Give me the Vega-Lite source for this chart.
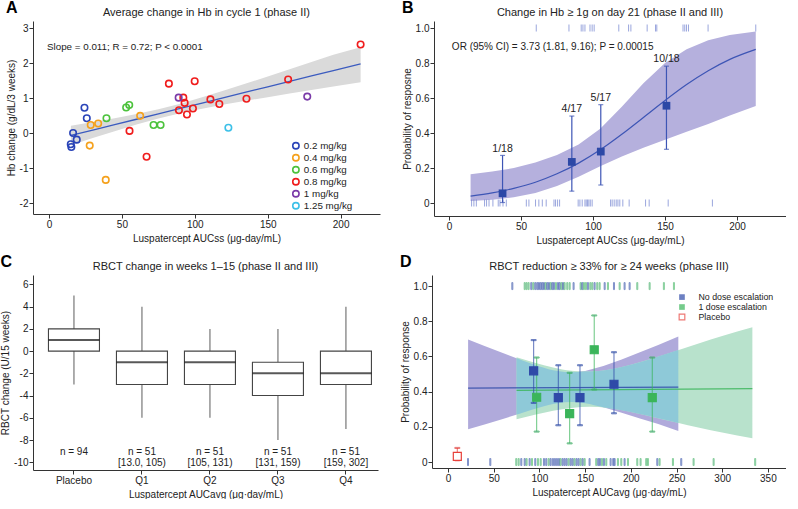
{
  "$schema": "https://vega.github.io/schema/vega-lite/v6.json",
  "padding": {"left": 0, "top": 0, "right": 0, "bottom": 0},
  "background": "white",
  "config": {
    "font": "Liberation Sans",
    "view": {"stroke": null},
    "axis": {"grid": false, "domainColor": "#333", "tickColor": "#333", "labelColor": "#222", "titleColor": "#222", "labelFontSize": 10, "titleFontSize": 10, "titleFontWeight": "normal", "tickSize": 4, "labelPadding": 1, "titlePadding": 4, "labelOverlap": false},
    "axisY": {"labelAngle": 0, "labelPadding": 1, "titlePadding": 3},
    "title": {"fontSize": 11, "fontWeight": "normal", "color": "#222", "offset": 3},
    "legend": {"labelFont": "Liberation Sans", "labelColor": "#222"}
  },
  "resolve": {"scale": {"x": "independent", "y": "independent", "color": "independent", "stroke": "independent", "fill": "independent"}},
  "datasets": {
    "aPts": [
      {"x": 24.3, "y": 0.72, "dose": "0.2 mg/kg"},
      {"x": 25.9, "y": 0.42, "dose": "0.2 mg/kg"},
      {"x": 16.5, "y": 0.0, "dose": "0.2 mg/kg"},
      {"x": 19.0, "y": -0.19, "dose": "0.2 mg/kg"},
      {"x": 14.9, "y": -0.32, "dose": "0.2 mg/kg"},
      {"x": 15.3, "y": -0.40, "dose": "0.2 mg/kg"},
      {"x": 28.6, "y": 0.23, "dose": "0.4 mg/kg"},
      {"x": 33.7, "y": 0.27, "dose": "0.4 mg/kg"},
      {"x": 27.9, "y": -0.36, "dose": "0.4 mg/kg"},
      {"x": 62.5, "y": 0.49, "dose": "0.4 mg/kg"},
      {"x": 38.9, "y": -1.34, "dose": "0.4 mg/kg"},
      {"x": 39.4, "y": 0.42, "dose": "0.6 mg/kg"},
      {"x": 52.9, "y": 0.73, "dose": "0.6 mg/kg"},
      {"x": 55.0, "y": 0.80, "dose": "0.6 mg/kg"},
      {"x": 71.7, "y": 0.23, "dose": "0.6 mg/kg"},
      {"x": 76.5, "y": 0.23, "dose": "0.6 mg/kg"},
      {"x": 55.2, "y": 0.06, "dose": "0.8 mg/kg"},
      {"x": 66.9, "y": -0.68, "dose": "0.8 mg/kg"},
      {"x": 82.2, "y": 1.41, "dose": "0.8 mg/kg"},
      {"x": 99.9, "y": 1.48, "dose": "0.8 mg/kg"},
      {"x": 92.1, "y": 1.01, "dose": "0.8 mg/kg"},
      {"x": 93.0, "y": 0.86, "dose": "0.8 mg/kg"},
      {"x": 89.1, "y": 0.65, "dose": "0.8 mg/kg"},
      {"x": 94.6, "y": 0.53, "dose": "0.8 mg/kg"},
      {"x": 98.7, "y": 0.70, "dose": "0.8 mg/kg"},
      {"x": 110.7, "y": 0.96, "dose": "0.8 mg/kg"},
      {"x": 116.8, "y": 0.83, "dose": "0.8 mg/kg"},
      {"x": 135.4, "y": 0.98, "dose": "0.8 mg/kg"},
      {"x": 164.0, "y": 1.53, "dose": "0.8 mg/kg"},
      {"x": 213.7, "y": 2.53, "dose": "0.8 mg/kg"},
      {"x": 88.9, "y": 1.01, "dose": "1 mg/kg"},
      {"x": 177.1, "y": 1.04, "dose": "1 mg/kg"},
      {"x": 123.0, "y": 0.15, "dose": "1.25 mg/kg"}
    ],
    "aBand": [
      {"x": 15, "fit": -0.070, "lo": -0.349, "hi": 0.209},
      {"x": 30, "fit": 0.084, "lo": -0.146, "hi": 0.314},
      {"x": 45, "fit": 0.239, "lo": 0.053, "hi": 0.425},
      {"x": 60, "fit": 0.393, "lo": 0.242, "hi": 0.544},
      {"x": 75, "fit": 0.548, "lo": 0.416, "hi": 0.680},
      {"x": 90, "fit": 0.702, "lo": 0.566, "hi": 0.838},
      {"x": 105, "fit": 0.857, "lo": 0.696, "hi": 1.018},
      {"x": 120, "fit": 1.011, "lo": 0.811, "hi": 1.211},
      {"x": 135, "fit": 1.166, "lo": 0.920, "hi": 1.412},
      {"x": 150, "fit": 1.320, "lo": 1.024, "hi": 1.616},
      {"x": 165, "fit": 1.475, "lo": 1.127, "hi": 1.823},
      {"x": 180, "fit": 1.629, "lo": 1.228, "hi": 2.030},
      {"x": 195, "fit": 1.784, "lo": 1.329, "hi": 2.239},
      {"x": 213.7, "fit": 1.976, "lo": 1.452, "hi": 2.450}
    ],
    "bBand": [
      {"x": 15, "p": 0.040, "lo": 0.012, "hi": 0.165},
      {"x": 30, "p": 0.058, "lo": 0.019, "hi": 0.180},
      {"x": 45, "p": 0.084, "lo": 0.033, "hi": 0.200},
      {"x": 60, "p": 0.119, "lo": 0.058, "hi": 0.232},
      {"x": 75, "p": 0.167, "lo": 0.097, "hi": 0.275},
      {"x": 90, "p": 0.228, "lo": 0.150, "hi": 0.335},
      {"x": 105, "p": 0.304, "lo": 0.210, "hi": 0.425},
      {"x": 120, "p": 0.393, "lo": 0.266, "hi": 0.550},
      {"x": 135, "p": 0.489, "lo": 0.316, "hi": 0.685},
      {"x": 150, "p": 0.586, "lo": 0.362, "hi": 0.800},
      {"x": 165, "p": 0.677, "lo": 0.407, "hi": 0.878},
      {"x": 180, "p": 0.756, "lo": 0.451, "hi": 0.930},
      {"x": 195, "p": 0.821, "lo": 0.500, "hi": 0.960},
      {"x": 213, "p": 0.878, "lo": 0.555, "hi": 0.980}
    ],
    "bPts": [
      {"x": 37.2, "p": 0.0556, "lo": 0.003, "hi": 0.272, "lab": "1/18", "ly": 0.31},
      {"x": 85.3, "p": 0.235, "lo": 0.068, "hi": 0.497, "lab": "4/17", "ly": 0.538},
      {"x": 105.4, "p": 0.294, "lo": 0.103, "hi": 0.562, "lab": "5/17", "ly": 0.598},
      {"x": 151.0, "p": 0.556, "lo": 0.307, "hi": 0.782, "lab": "10/18", "ly": 0.822}
    ],
    "bRug": [
      {"x": 60.6, "r": 1}, {"x": 83.3, "r": 1}, {"x": 91.8, "r": 1}, {"x": 93.0, "r": 1}, {"x": 94.4, "r": 1},
      {"x": 97.9, "r": 1}, {"x": 99.4, "r": 1}, {"x": 100.8, "r": 1}, {"x": 117.9, "r": 1}, {"x": 124.7, "r": 1},
      {"x": 126.3, "r": 1}, {"x": 137.6, "r": 1}, {"x": 143.4, "r": 1}, {"x": 144.3, "r": 1}, {"x": 162.5, "r": 1},
      {"x": 163.7, "r": 1}, {"x": 164.9, "r": 1}, {"x": 166.3, "r": 1}, {"x": 179.9, "r": 1}, {"x": 213.0, "r": 1},
      {"x": 15.7, "r": 0}, {"x": 17.3, "r": 0}, {"x": 19.0, "r": 0}, {"x": 24.7, "r": 0}, {"x": 26.1, "r": 0},
      {"x": 27.8, "r": 0}, {"x": 30.5, "r": 0}, {"x": 34.2, "r": 0}, {"x": 35.4, "r": 0}, {"x": 37.5, "r": 0},
      {"x": 39.8, "r": 0}, {"x": 53.7, "r": 0}, {"x": 55.5, "r": 0}, {"x": 60.1, "r": 0}, {"x": 62.4, "r": 0},
      {"x": 64.8, "r": 0}, {"x": 67.5, "r": 0}, {"x": 72.9, "r": 0}, {"x": 74.0, "r": 0}, {"x": 75.4, "r": 0},
      {"x": 76.8, "r": 0}, {"x": 89.7, "r": 0}, {"x": 90.9, "r": 0}, {"x": 92.5, "r": 0}, {"x": 94.4, "r": 0},
      {"x": 95.3, "r": 0}, {"x": 96.2, "r": 0}, {"x": 97.1, "r": 0}, {"x": 98.1, "r": 0}, {"x": 99.4, "r": 0},
      {"x": 112.2, "r": 0}, {"x": 113.3, "r": 0}, {"x": 114.7, "r": 0}, {"x": 116.1, "r": 0}, {"x": 117.3, "r": 0},
      {"x": 118.6, "r": 0}, {"x": 120.7, "r": 0}, {"x": 125.1, "r": 0}, {"x": 136.5, "r": 0}, {"x": 139.0, "r": 0},
      {"x": 152.2, "r": 0}, {"x": 182.9, "r": 0}
    ],
    "cBox": [
      {"g": "Placebo", "lo": -3, "q1": 0, "med": 1, "q3": 2, "hi": 5, "n": "n = 94", "rng": ""},
      {"g": "Q1", "lo": -6, "q1": -3, "med": -1, "q3": 0, "hi": 4, "n": "n = 51", "rng": "[13.0, 105)"},
      {"g": "Q2", "lo": -6, "q1": -3, "med": -1, "q3": 0, "hi": 2, "n": "n = 51", "rng": "[105, 131)"},
      {"g": "Q3", "lo": -8, "q1": -4, "med": -2, "q3": -1, "hi": 2, "n": "n = 51", "rng": "[131, 159)"},
      {"g": "Q4", "lo": -7, "q1": -3, "med": -2, "q3": 0, "hi": 4, "n": "n = 51", "rng": "[159, 302]"}
    ],
    "dBlueBand": [
      {"x": 22, "lo": 0.1865, "hi": 0.6957},
      {"x": 40, "lo": 0.2132, "hi": 0.6600},
      {"x": 60, "lo": 0.2449, "hi": 0.6196},
      {"x": 80, "lo": 0.2779, "hi": 0.5796},
      {"x": 100, "lo": 0.3096, "hi": 0.5432},
      {"x": 120, "lo": 0.3338, "hi": 0.5167},
      {"x": 135, "lo": 0.3405, "hi": 0.5097},
      {"x": 150, "lo": 0.3345, "hi": 0.5175},
      {"x": 170, "lo": 0.3111, "hi": 0.5451},
      {"x": 190, "lo": 0.2803, "hi": 0.5825},
      {"x": 210, "lo": 0.2479, "hi": 0.6234},
      {"x": 230, "lo": 0.2165, "hi": 0.6646},
      {"x": 252, "lo": 0.1760, "hi": 0.7140}
    ],
    "dGreenBand": [
      {"x": 75, "lo": 0.2430, "hi": 0.5948},
      {"x": 95, "lo": 0.2681, "hi": 0.5641},
      {"x": 115, "lo": 0.2910, "hi": 0.5377},
      {"x": 135, "lo": 0.3077, "hi": 0.5193},
      {"x": 155, "lo": 0.3137, "hi": 0.5140},
      {"x": 175, "lo": 0.3066, "hi": 0.5240},
      {"x": 200, "lo": 0.2843, "hi": 0.5526},
      {"x": 225, "lo": 0.2550, "hi": 0.5910},
      {"x": 250, "lo": 0.2243, "hi": 0.6330},
      {"x": 275, "lo": 0.1947, "hi": 0.6752},
      {"x": 300, "lo": 0.1671, "hi": 0.7163},
      {"x": 333, "lo": 0.1352, "hi": 0.7661}
    ],
    "dOverlap": [
      {"x": 75, "lo": 0.2697, "hi": 0.5894},
      {"x": 80, "lo": 0.2779, "hi": 0.5796},
      {"x": 100, "lo": 0.3096, "hi": 0.5432},
      {"x": 120, "lo": 0.3338, "hi": 0.5167},
      {"x": 135, "lo": 0.3405, "hi": 0.5097},
      {"x": 150, "lo": 0.3345, "hi": 0.5139},
      {"x": 170, "lo": 0.3111, "hi": 0.5201},
      {"x": 190, "lo": 0.2944, "hi": 0.5395},
      {"x": 210, "lo": 0.2730, "hi": 0.5671},
      {"x": 230, "lo": 0.2489, "hi": 0.5991},
      {"x": 252, "lo": 0.2218, "hi": 0.6363}
    ],
    "dLine": [
      {"x": 22, "p": 0.420, "grp": "No dose escalation"},
      {"x": 252, "p": 0.426, "grp": "No dose escalation"},
      {"x": 75, "p": 0.407, "grp": "1 dose escalation"},
      {"x": 333, "p": 0.417, "grp": "1 dose escalation"}
    ],
    "dPts": [
      {"x": 93.7, "p": 0.518, "lo": 0.336, "hi": 0.693, "grp": "No dose escalation"},
      {"x": 120.7, "p": 0.366, "lo": 0.209, "hi": 0.550, "grp": "No dose escalation"},
      {"x": 144.4, "p": 0.366, "lo": 0.209, "hi": 0.550, "grp": "No dose escalation"},
      {"x": 181.6, "p": 0.442, "lo": 0.277, "hi": 0.624, "grp": "No dose escalation"},
      {"x": 97.0, "p": 0.368, "lo": 0.173, "hi": 0.594, "grp": "1 dose escalation"},
      {"x": 133.1, "p": 0.275, "lo": 0.106, "hi": 0.507, "grp": "1 dose escalation"},
      {"x": 160.0, "p": 0.638, "lo": 0.412, "hi": 0.833, "grp": "1 dose escalation"},
      {"x": 223.5, "p": 0.366, "lo": 0.173, "hi": 0.594, "grp": "1 dose escalation"},
      {"x": 10.2, "p": 0.032, "lo": 0.010, "hi": 0.080, "grp": "Placebo"}
    ],
    "dRug": [
      {"x": 70.4, "r": 1, "grp": "No dose escalation"}, {"x": 83.9, "r": 1, "grp": "1 dose escalation"},
      {"x": 86.0, "r": 1, "grp": "1 dose escalation"}, {"x": 88.2, "r": 1, "grp": "1 dose escalation"},
      {"x": 91.1, "r": 1, "grp": "No dose escalation"}, {"x": 93.3, "r": 1, "grp": "1 dose escalation"},
      {"x": 95.5, "r": 1, "grp": "No dose escalation"}, {"x": 97.7, "r": 1, "grp": "No dose escalation"},
      {"x": 99.5, "r": 1, "grp": "No dose escalation"}, {"x": 101.4, "r": 1, "grp": "No dose escalation"},
      {"x": 103.2, "r": 1, "grp": "No dose escalation"}, {"x": 105.0, "r": 1, "grp": "No dose escalation"},
      {"x": 106.8, "r": 1, "grp": "1 dose escalation"}, {"x": 108.6, "r": 1, "grp": "No dose escalation"},
      {"x": 110.5, "r": 1, "grp": "No dose escalation"}, {"x": 112.3, "r": 1, "grp": "1 dose escalation"},
      {"x": 114.1, "r": 1, "grp": "No dose escalation"}, {"x": 115.9, "r": 1, "grp": "No dose escalation"},
      {"x": 118.1, "r": 1, "grp": "1 dose escalation"}, {"x": 120.3, "r": 1, "grp": "No dose escalation"},
      {"x": 122.1, "r": 1, "grp": "No dose escalation"}, {"x": 124.0, "r": 1, "grp": "1 dose escalation"},
      {"x": 125.8, "r": 1, "grp": "No dose escalation"}, {"x": 127.6, "r": 1, "grp": "1 dose escalation"},
      {"x": 130.5, "r": 1, "grp": "1 dose escalation"}, {"x": 133.1, "r": 1, "grp": "1 dose escalation"},
      {"x": 137.4, "r": 1, "grp": "No dose escalation"}, {"x": 145.1, "r": 1, "grp": "1 dose escalation"},
      {"x": 146.9, "r": 1, "grp": "No dose escalation"}, {"x": 148.7, "r": 1, "grp": "1 dose escalation"},
      {"x": 150.9, "r": 1, "grp": "1 dose escalation"}, {"x": 153.1, "r": 1, "grp": "No dose escalation"},
      {"x": 155.7, "r": 1, "grp": "1 dose escalation"}, {"x": 157.9, "r": 1, "grp": "1 dose escalation"},
      {"x": 160.4, "r": 1, "grp": "No dose escalation"}, {"x": 163.3, "r": 1, "grp": "1 dose escalation"},
      {"x": 165.9, "r": 1, "grp": "1 dose escalation"}, {"x": 171.4, "r": 1, "grp": "No dose escalation"},
      {"x": 175.0, "r": 1, "grp": "1 dose escalation"}, {"x": 181.6, "r": 1, "grp": "No dose escalation"},
      {"x": 187.8, "r": 1, "grp": "1 dose escalation"}, {"x": 193.2, "r": 1, "grp": "No dose escalation"},
      {"x": 198.7, "r": 1, "grp": "No dose escalation"}, {"x": 207.1, "r": 1, "grp": "1 dose escalation"},
      {"x": 220.6, "r": 1, "grp": "1 dose escalation"}, {"x": 236.2, "r": 1, "grp": "1 dose escalation"},
      {"x": 247.2, "r": 1, "grp": "1 dose escalation"},
      {"x": 21.9, "r": 0, "grp": "No dose escalation"}, {"x": 46.3, "r": 0, "grp": "No dose escalation"},
      {"x": 74.7, "r": 0, "grp": "1 dose escalation"}, {"x": 77.3, "r": 0, "grp": "1 dose escalation"},
      {"x": 80.2, "r": 0, "grp": "No dose escalation"}, {"x": 83.9, "r": 0, "grp": "No dose escalation"},
      {"x": 86.0, "r": 0, "grp": "1 dose escalation"}, {"x": 89.3, "r": 0, "grp": "No dose escalation"},
      {"x": 91.9, "r": 0, "grp": "1 dose escalation"}, {"x": 95.5, "r": 0, "grp": "No dose escalation"},
      {"x": 98.4, "r": 0, "grp": "1 dose escalation"}, {"x": 101.4, "r": 0, "grp": "1 dose escalation"},
      {"x": 105.0, "r": 0, "grp": "No dose escalation"}, {"x": 107.5, "r": 0, "grp": "No dose escalation"},
      {"x": 110.1, "r": 0, "grp": "1 dose escalation"}, {"x": 112.3, "r": 0, "grp": "No dose escalation"},
      {"x": 114.8, "r": 0, "grp": "No dose escalation"}, {"x": 117.0, "r": 0, "grp": "No dose escalation"},
      {"x": 119.2, "r": 0, "grp": "No dose escalation"}, {"x": 121.4, "r": 0, "grp": "No dose escalation"},
      {"x": 123.2, "r": 0, "grp": "1 dose escalation"}, {"x": 125.4, "r": 0, "grp": "No dose escalation"},
      {"x": 127.6, "r": 0, "grp": "No dose escalation"}, {"x": 129.8, "r": 0, "grp": "No dose escalation"},
      {"x": 132.0, "r": 0, "grp": "1 dose escalation"}, {"x": 134.2, "r": 0, "grp": "No dose escalation"},
      {"x": 136.4, "r": 0, "grp": "No dose escalation"}, {"x": 138.5, "r": 0, "grp": "1 dose escalation"},
      {"x": 140.7, "r": 0, "grp": "No dose escalation"}, {"x": 142.9, "r": 0, "grp": "No dose escalation"},
      {"x": 145.1, "r": 0, "grp": "1 dose escalation"}, {"x": 147.3, "r": 0, "grp": "No dose escalation"},
      {"x": 149.5, "r": 0, "grp": "1 dose escalation"}, {"x": 154.9, "r": 0, "grp": "No dose escalation"},
      {"x": 162.2, "r": 0, "grp": "1 dose escalation"}, {"x": 164.4, "r": 0, "grp": "No dose escalation"},
      {"x": 166.2, "r": 0, "grp": "No dose escalation"}, {"x": 168.4, "r": 0, "grp": "1 dose escalation"},
      {"x": 170.6, "r": 0, "grp": "No dose escalation"}, {"x": 173.2, "r": 0, "grp": "1 dose escalation"},
      {"x": 177.9, "r": 0, "grp": "No dose escalation"}, {"x": 180.8, "r": 0, "grp": "No dose escalation"},
      {"x": 182.3, "r": 0, "grp": "No dose escalation"}, {"x": 185.9, "r": 0, "grp": "1 dose escalation"},
      {"x": 189.6, "r": 0, "grp": "1 dose escalation"}, {"x": 193.2, "r": 0, "grp": "No dose escalation"},
      {"x": 196.9, "r": 0, "grp": "1 dose escalation"}, {"x": 207.1, "r": 0, "grp": "1 dose escalation"},
      {"x": 210.7, "r": 0, "grp": "1 dose escalation"}, {"x": 216.9, "r": 0, "grp": "1 dose escalation"},
      {"x": 218.7, "r": 0, "grp": "1 dose escalation"}, {"x": 229.0, "r": 0, "grp": "No dose escalation"},
      {"x": 231.5, "r": 0, "grp": "1 dose escalation"}, {"x": 246.1, "r": 0, "grp": "1 dose escalation"},
      {"x": 255.2, "r": 0, "grp": "No dose escalation"}, {"x": 268.7, "r": 0, "grp": "1 dose escalation"},
      {"x": 290.6, "r": 0, "grp": "1 dose escalation"}, {"x": 336.1, "r": 0, "grp": "1 dose escalation"}
    ]
  },
  "vconcat": [
    {
      "hconcat": [
        {
          "title": {"text": "A", "anchor": "start", "frame": "bounds", "fontSize": 16, "fontWeight": "bold", "offset": -9, "color": "#000"},
          "resolve": {"scale": {"color": "independent"}},
          "vconcat": [
            {
              "width": 347, "height": 193,
              "title": "Average change in Hb in cycle 1 (phase II)",
              "layer": [
                {
                  "data": {"name": "aBand"},
                  "mark": {"type": "area", "color": "#dadada"},
                  "encoding": {
                    "x": {"field": "x", "type": "quantitative", "title": "Luspatercept AUCss (μg-day/mL)", "scale": {"domain": [-11, 227], "nice": false, "zero": false}, "axis": {"values": [0, 50, 100, 150, 200], "labelOverlap": false}},
                    "y": {"field": "lo", "type": "quantitative", "title": "Hb change (g/dL/3 weeks)", "scale": {"domain": [-2.314, 3.2], "nice": false, "zero": false}, "axis": {"values": [-2, -1, 0, 1, 2, 3], "labelOverlap": false, "labelExpr": "replace(datum.label, '−', '-')"}},
                    "y2": {"field": "hi"}
                  }
                },
                {
                  "data": {"name": "aBand"},
                  "mark": {"type": "line", "color": "#3b5bbf", "strokeWidth": 1.3},
                  "encoding": {
                    "x": {"field": "x", "type": "quantitative", "title": "Luspatercept AUCss (μg-day/mL)", "axis": {"values": [0, 50, 100, 150, 200], "labelOverlap": false}},
                    "y": {"field": "fit", "type": "quantitative", "title": "Hb change (g/dL/3 weeks)", "axis": {"values": [-2, -1, 0, 1, 2, 3], "labelOverlap": false, "labelExpr": "replace(datum.label, '−', '-')"}}
                  }
                },
                {
                  "data": {"name": "aPts"},
                  "mark": {"type": "point", "shape": "circle", "filled": false, "strokeWidth": 1.6, "size": 42, "opacity": 1},
                  "encoding": {
                    "x": {"field": "x", "type": "quantitative", "title": "Luspatercept AUCss (μg-day/mL)", "axis": {"values": [0, 50, 100, 150, 200], "labelOverlap": false}},
                    "y": {"field": "y", "type": "quantitative", "title": "Hb change (g/dL/3 weeks)", "axis": {"values": [-2, -1, 0, 1, 2, 3], "labelOverlap": false, "labelExpr": "replace(datum.label, '−', '-')"}},
                    "color": {"field": "dose", "type": "nominal",
                      "scale": {"domain": ["0.2 mg/kg", "0.4 mg/kg", "0.6 mg/kg", "0.8 mg/kg", "1 mg/kg", "1.25 mg/kg"], "range": ["#2a44b8", "#f5a11c", "#4cc23c", "#f01c1c", "#7a3aa8", "#3cc0e8"]},
                      "legend": {"title": null, "orient": "none", "legendX": 258, "legendY": 119, "labelFontSize": 9.8, "symbolSize": 40, "symbolStrokeWidth": 1.6, "rowPadding": 0, "clipHeight": 11.5, "symbolType": "circle", "labelOffset": 3}}
                  }
                },
                {
                  "data": {"values": [{}]},
                  "mark": {"type": "text", "text": "Slope = 0.011; R = 0.72; P < 0.0001", "align": "left", "fontSize": 9.8, "color": "#222"},
                  "encoding": {
                    "x": {"datum": -1.4, "type": "quantitative", "title": "Luspatercept AUCss (μg-day/mL)", "axis": {"values": [0, 50, 100, 150, 200], "labelOverlap": false}},
                    "y": {"datum": 2.45, "type": "quantitative", "title": "Hb change (g/dL/3 weeks)", "axis": {"values": [-2, -1, 0, 1, 2, 3], "labelOverlap": false, "labelExpr": "replace(datum.label, '−', '-')"}}
                  }
                }
              ]
            }
          ]
        },
        {
          "title": {"text": "B", "anchor": "start", "frame": "bounds", "fontSize": 16, "fontWeight": "bold", "offset": -9, "color": "#000"},
          "vconcat": [
            {
              "width": 352, "height": 195,
              "title": "Change in Hb ≥ 1g on day 21 (phase II and III)",
              "layer": [
                {
                  "data": {"name": "bBand"},
                  "mark": {"type": "area", "color": "#b5b0dd"},
                  "encoding": {
                    "x": {"field": "x", "type": "quantitative", "title": "Luspatercept AUCss (μg-day/mL)", "scale": {"domain": [-10.4, 234], "nice": false, "zero": false}, "axis": {"values": [0, 50, 100, 150, 200], "labelOverlap": false}},
                    "y": {"field": "lo", "type": "quantitative", "title": "Probability of resposne", "scale": {"domain": [-0.074, 1.04], "nice": false, "zero": false}, "axis": {"values": [0, 0.2, 0.4, 0.6, 0.8, 1.0], "labelOverlap": false, "labelExpr": "datum.value == 0 ? '0' : format(datum.value, '.1f')"}},
                    "y2": {"field": "hi"}
                  }
                },
                {
                  "data": {"name": "bBand"},
                  "mark": {"type": "line", "color": "#3d55b5", "strokeWidth": 1.2, "interpolate": "monotone"},
                  "encoding": {
                    "x": {"field": "x", "type": "quantitative", "title": "Luspatercept AUCss (μg-day/mL)", "axis": {"values": [0, 50, 100, 150, 200], "labelOverlap": false}},
                    "y": {"field": "p", "type": "quantitative", "title": "Probability of resposne", "axis": {"values": [0, 0.2, 0.4, 0.6, 0.8, 1.0], "labelOverlap": false, "labelExpr": "datum.value == 0 ? '0' : format(datum.value, '.1f')"}}
                  }
                },
                {
                  "data": {"name": "bRug"},
                  "mark": {"type": "tick", "orient": "vertical", "size": 7, "thickness": 1, "color": "#6f80cf"},
                  "encoding": {
                    "x": {"field": "x", "type": "quantitative", "title": "Luspatercept AUCss (μg-day/mL)", "axis": {"values": [0, 50, 100, 150, 200], "labelOverlap": false}},
                    "y": {"field": "r", "type": "quantitative", "title": "Probability of resposne", "axis": {"values": [0, 0.2, 0.4, 0.6, 0.8, 1.0], "labelOverlap": false, "labelExpr": "datum.value == 0 ? '0' : format(datum.value, '.1f')"}}
                  }
                },
                {
                  "data": {"name": "bPts"},
                  "mark": {"type": "rule", "color": "#3d55b5", "strokeWidth": 1.2},
                  "encoding": {
                    "x": {"field": "x", "type": "quantitative", "title": "Luspatercept AUCss (μg-day/mL)", "axis": {"values": [0, 50, 100, 150, 200], "labelOverlap": false}},
                    "y": {"field": "lo", "type": "quantitative", "title": "Probability of resposne", "axis": {"values": [0, 0.2, 0.4, 0.6, 0.8, 1.0], "labelOverlap": false, "labelExpr": "datum.value == 0 ? '0' : format(datum.value, '.1f')"}},
                    "y2": {"field": "hi"}
                  }
                },
                {
                  "data": {"name": "bPts"},
                  "mark": {"type": "tick", "orient": "horizontal", "size": 5, "thickness": 1.2, "color": "#3d55b5"},
                  "encoding": {
                    "x": {"field": "x", "type": "quantitative", "title": "Luspatercept AUCss (μg-day/mL)", "axis": {"values": [0, 50, 100, 150, 200], "labelOverlap": false}},
                    "y": {"field": "lo", "type": "quantitative", "title": "Probability of resposne", "axis": {"values": [0, 0.2, 0.4, 0.6, 0.8, 1.0], "labelOverlap": false, "labelExpr": "datum.value == 0 ? '0' : format(datum.value, '.1f')"}}
                  }
                },
                {
                  "data": {"name": "bPts"},
                  "mark": {"type": "tick", "orient": "horizontal", "size": 5, "thickness": 1.2, "color": "#3d55b5"},
                  "encoding": {
                    "x": {"field": "x", "type": "quantitative", "title": "Luspatercept AUCss (μg-day/mL)", "axis": {"values": [0, 50, 100, 150, 200], "labelOverlap": false}},
                    "y": {"field": "hi", "type": "quantitative", "title": "Probability of resposne", "axis": {"values": [0, 0.2, 0.4, 0.6, 0.8, 1.0], "labelOverlap": false, "labelExpr": "datum.value == 0 ? '0' : format(datum.value, '.1f')"}}
                  }
                },
                {
                  "data": {"name": "bPts"},
                  "mark": {"type": "square", "size": 60, "color": "#2c48a6", "opacity": 1},
                  "encoding": {
                    "x": {"field": "x", "type": "quantitative", "title": "Luspatercept AUCss (μg-day/mL)", "axis": {"values": [0, 50, 100, 150, 200], "labelOverlap": false}},
                    "y": {"field": "p", "type": "quantitative", "title": "Probability of resposne", "axis": {"values": [0, 0.2, 0.4, 0.6, 0.8, 1.0], "labelOverlap": false, "labelExpr": "datum.value == 0 ? '0' : format(datum.value, '.1f')"}}
                  }
                },
                {
                  "data": {"name": "bPts"},
                  "mark": {"type": "text", "fontSize": 10.5, "color": "#222"},
                  "encoding": {
                    "x": {"field": "x", "type": "quantitative", "title": "Luspatercept AUCss (μg-day/mL)", "axis": {"values": [0, 50, 100, 150, 200], "labelOverlap": false}},
                    "y": {"field": "ly", "type": "quantitative", "title": "Probability of resposne", "axis": {"values": [0, 0.2, 0.4, 0.6, 0.8, 1.0], "labelOverlap": false, "labelExpr": "datum.value == 0 ? '0' : format(datum.value, '.1f')"}},
                    "text": {"field": "lab"}
                  }
                },
                {
                  "data": {"values": [{}]},
                  "mark": {"type": "text", "text": "OR (95% CI) = 3.73 (1.81, 9.16); P = 0.00015", "align": "left", "fontSize": 10, "color": "#222"},
                  "encoding": {
                    "x": {"datum": 2, "type": "quantitative", "title": "Luspatercept AUCss (μg-day/mL)", "axis": {"values": [0, 50, 100, 150, 200], "labelOverlap": false}},
                    "y": {"datum": 0.891, "type": "quantitative", "title": "Probability of resposne", "axis": {"values": [0, 0.2, 0.4, 0.6, 0.8, 1.0], "labelOverlap": false, "labelExpr": "datum.value == 0 ? '0' : format(datum.value, '.1f')"}}
                  }
                }
              ]
            }
          ]
        }
      ],
      "spacing": 22,
      "resolve": {"scale": {"x": "independent", "y": "independent", "color": "independent"}}
    },
    {
      "hconcat": [
        {
          "title": {"text": "C", "anchor": "start", "frame": "bounds", "fontSize": 16, "fontWeight": "bold", "offset": -9, "color": "#000"},
          "vconcat": [
            {
              "width": 345, "height": 195,
              "title": "RBCT change in weeks 1–15 (phase II and III)",
              "data": {"name": "cBox"},
              "encoding": {
                "x": {"field": "g", "type": "nominal", "sort": null, "title": "Luspatercept AUCavg (μg·day/mL)", "scale": {"paddingInner": 0.27, "paddingOuter": 0.172, "align": 0.69}, "axis": {"labelAngle": 0, "labelPadding": 1, "titlePadding": 4}}
              },
              "layer": [
                {
                  "mark": {"type": "rule", "color": "#777", "strokeWidth": 1.2},
                  "encoding": {
                    "y": {"field": "lo", "type": "quantitative", "title": "RBCT change (U/15 weeks)", "scale": {"domain": [-10.7, 6.85], "nice": false, "zero": false}, "axis": {"values": [-10, -8, -6, -4, -2, 0, 2, 4, 6], "labelOverlap": false, "labelExpr": "replace(datum.label, '−', '-')"}},
                    "y2": {"field": "q1"}
                  }
                },
                {
                  "mark": {"type": "rule", "color": "#777", "strokeWidth": 1.2},
                  "encoding": {
                    "y": {"field": "q3", "type": "quantitative", "title": "RBCT change (U/15 weeks)", "axis": {"values": [-10, -8, -6, -4, -2, 0, 2, 4, 6], "labelOverlap": false, "labelExpr": "replace(datum.label, '−', '-')"}},
                    "y2": {"field": "hi"}
                  }
                },
                {
                  "mark": {"type": "bar", "fill": "white", "stroke": "#444", "strokeWidth": 1.1, "size": 51},
                  "encoding": {
                    "y": {"field": "q1", "type": "quantitative", "title": "RBCT change (U/15 weeks)", "axis": {"values": [-10, -8, -6, -4, -2, 0, 2, 4, 6], "labelOverlap": false, "labelExpr": "replace(datum.label, '−', '-')"}},
                    "y2": {"field": "q3"}
                  }
                },
                {
                  "mark": {"type": "tick", "color": "#111", "thickness": 2, "size": 51},
                  "encoding": {
                    "y": {"field": "med", "type": "quantitative", "title": "RBCT change (U/15 weeks)", "axis": {"values": [-10, -8, -6, -4, -2, 0, 2, 4, 6], "labelOverlap": false, "labelExpr": "replace(datum.label, '−', '-')"}}
                  }
                },
                {
                  "mark": {"type": "text", "fontSize": 10, "color": "#222"},
                  "encoding": {
                    "y": {"datum": -9.05, "type": "quantitative", "title": "RBCT change (U/15 weeks)", "axis": {"values": [-10, -8, -6, -4, -2, 0, 2, 4, 6], "labelOverlap": false, "labelExpr": "replace(datum.label, '−', '-')"}},
                    "text": {"field": "n"}
                  }
                },
                {
                  "mark": {"type": "text", "fontSize": 10, "color": "#222"},
                  "encoding": {
                    "y": {"datum": -10.1, "type": "quantitative", "title": "RBCT change (U/15 weeks)", "axis": {"values": [-10, -8, -6, -4, -2, 0, 2, 4, 6], "labelOverlap": false, "labelExpr": "replace(datum.label, '−', '-')"}},
                    "text": {"field": "rng"}
                  }
                }
              ]
            }
          ]
        },
        {
          "title": {"text": "D", "anchor": "start", "frame": "bounds", "fontSize": 16, "fontWeight": "bold", "offset": -9, "color": "#000"},
          "resolve": {"scale": {"stroke": "independent", "fill": "independent"}},
          "vconcat": [
            {
              "width": 354, "height": 193,
              "title": "RBCT reduction ≥ 33% for ≥ 24 weeks (phase III)",
              "layer": [
                {
                  "data": {"name": "dBlueBand"},
                  "mark": {"type": "area", "color": "#b0aadb"},
                  "encoding": {
                    "x": {"field": "x", "type": "quantitative", "title": "Luspatercept AUCavg (μg·day/mL)", "scale": {"domain": [-17.5, 369.8], "nice": false, "zero": false}, "axis": {"values": [0, 50, 100, 150, 200, 250, 300, 350], "labelOverlap": false}},
                    "y": {"field": "lo", "type": "quantitative", "title": "Probability of response", "scale": {"domain": [-0.034, 1.063], "nice": false, "zero": false}, "axis": {"values": [0, 0.2, 0.4, 0.6, 0.8, 1.0], "labelOverlap": false, "labelExpr": "datum.value == 0 ? '0' : format(datum.value, '.1f')"}},
                    "y2": {"field": "hi"}
                  }
                },
                {
                  "data": {"name": "dGreenBand"},
                  "mark": {"type": "area", "color": "#b8e2cc", "interpolate": "monotone"},
                  "encoding": {
                    "x": {"field": "x", "type": "quantitative", "title": "Luspatercept AUCavg (μg·day/mL)", "axis": {"values": [0, 50, 100, 150, 200, 250, 300, 350], "labelOverlap": false}},
                    "y": {"field": "lo", "type": "quantitative", "title": "Probability of response", "axis": {"values": [0, 0.2, 0.4, 0.6, 0.8, 1.0], "labelOverlap": false, "labelExpr": "datum.value == 0 ? '0' : format(datum.value, '.1f')"}},
                    "y2": {"field": "hi"}
                  }
                },
                {
                  "data": {"name": "dOverlap"},
                  "mark": {"type": "area", "color": "#8ec9d8", "interpolate": "monotone"},
                  "encoding": {
                    "x": {"field": "x", "type": "quantitative", "title": "Luspatercept AUCavg (μg·day/mL)", "axis": {"values": [0, 50, 100, 150, 200, 250, 300, 350], "labelOverlap": false}},
                    "y": {"field": "lo", "type": "quantitative", "title": "Probability of response", "axis": {"values": [0, 0.2, 0.4, 0.6, 0.8, 1.0], "labelOverlap": false, "labelExpr": "datum.value == 0 ? '0' : format(datum.value, '.1f')"}},
                    "y2": {"field": "hi"}
                  }
                },
                {
                  "data": {"name": "dLine"},
                  "mark": {"type": "line", "strokeWidth": 1.3, "opacity": 0.85},
                  "encoding": {
                    "x": {"field": "x", "type": "quantitative", "title": "Luspatercept AUCavg (μg·day/mL)", "axis": {"values": [0, 50, 100, 150, 200, 250, 300, 350], "labelOverlap": false}},
                    "y": {"field": "p", "type": "quantitative", "title": "Probability of response", "axis": {"values": [0, 0.2, 0.4, 0.6, 0.8, 1.0], "labelOverlap": false, "labelExpr": "datum.value == 0 ? '0' : format(datum.value, '.1f')"}},
                    "stroke": {"field": "grp", "type": "nominal", "scale": {"domain": ["No dose escalation", "1 dose escalation", "Placebo"], "range": ["#2f4aa8", "#3bb55a", "#e8403a"]}, "legend": null}
                  }
                },
                {
                  "data": {"name": "dRug"},
                  "mark": {"type": "tick", "orient": "vertical", "size": 7, "thickness": 1, "opacity": 0.6},
                  "encoding": {
                    "x": {"field": "x", "type": "quantitative", "title": "Luspatercept AUCavg (μg·day/mL)", "axis": {"values": [0, 50, 100, 150, 200, 250, 300, 350], "labelOverlap": false}},
                    "y": {"field": "r", "type": "quantitative", "title": "Probability of response", "axis": {"values": [0, 0.2, 0.4, 0.6, 0.8, 1.0], "labelOverlap": false, "labelExpr": "datum.value == 0 ? '0' : format(datum.value, '.1f')"}},
                    "stroke": {"field": "grp", "type": "nominal", "legend": null}
                  }
                },
                {
                  "data": {"name": "dPts"},
                  "mark": {"type": "rule", "strokeWidth": 1.1, "opacity": 0.7},
                  "encoding": {
                    "x": {"field": "x", "type": "quantitative", "title": "Luspatercept AUCavg (μg·day/mL)", "axis": {"values": [0, 50, 100, 150, 200, 250, 300, 350], "labelOverlap": false}},
                    "y": {"field": "lo", "type": "quantitative", "title": "Probability of response", "axis": {"values": [0, 0.2, 0.4, 0.6, 0.8, 1.0], "labelOverlap": false, "labelExpr": "datum.value == 0 ? '0' : format(datum.value, '.1f')"}},
                    "y2": {"field": "hi"},
                    "stroke": {"field": "grp", "type": "nominal", "legend": null}
                  }
                },
                {
                  "data": {"name": "dPts"},
                  "mark": {"type": "tick", "orient": "horizontal", "size": 5, "thickness": 1.1, "opacity": 0.7},
                  "encoding": {
                    "x": {"field": "x", "type": "quantitative", "title": "Luspatercept AUCavg (μg·day/mL)", "axis": {"values": [0, 50, 100, 150, 200, 250, 300, 350], "labelOverlap": false}},
                    "y": {"field": "lo", "type": "quantitative", "title": "Probability of response", "axis": {"values": [0, 0.2, 0.4, 0.6, 0.8, 1.0], "labelOverlap": false, "labelExpr": "datum.value == 0 ? '0' : format(datum.value, '.1f')"}},
                    "stroke": {"field": "grp", "type": "nominal", "legend": null}
                  }
                },
                {
                  "data": {"name": "dPts"},
                  "mark": {"type": "tick", "orient": "horizontal", "size": 5, "thickness": 1.1, "opacity": 0.7},
                  "encoding": {
                    "x": {"field": "x", "type": "quantitative", "title": "Luspatercept AUCavg (μg·day/mL)", "axis": {"values": [0, 50, 100, 150, 200, 250, 300, 350], "labelOverlap": false}},
                    "y": {"field": "hi", "type": "quantitative", "title": "Probability of response", "axis": {"values": [0, 0.2, 0.4, 0.6, 0.8, 1.0], "labelOverlap": false, "labelExpr": "datum.value == 0 ? '0' : format(datum.value, '.1f')"}},
                    "stroke": {"field": "grp", "type": "nominal", "legend": null}
                  }
                },
                {
                  "data": {"name": "dPts"},
                  "mark": {"type": "square", "size": 64, "strokeWidth": 1.2, "filled": true, "opacity": 1},
                  "encoding": {
                    "x": {"field": "x", "type": "quantitative", "title": "Luspatercept AUCavg (μg·day/mL)", "axis": {"values": [0, 50, 100, 150, 200, 250, 300, 350], "labelOverlap": false}},
                    "y": {"field": "p", "type": "quantitative", "title": "Probability of response", "axis": {"values": [0, 0.2, 0.4, 0.6, 0.8, 1.0], "labelOverlap": false, "labelExpr": "datum.value == 0 ? '0' : format(datum.value, '.1f')"}},
                    "stroke": {"field": "grp", "type": "nominal", "legend": null},
                    "fill": {"field": "grp", "type": "nominal", "scale": {"domain": ["No dose escalation", "1 dose escalation", "Placebo"], "range": ["#2f4aa8", "#3bb55a", "#ffffff"]}, "legend": null}
                  }
                },
                {
                  "data": {"values": [{}]},
                  "mark": {"type": "square", "size": 32, "filled": true, "color": "#2f4aa8"},
                  "encoding": {
                    "x": {"datum": 256, "type": "quantitative", "title": "Luspatercept AUCavg (μg·day/mL)", "axis": {"values": [0, 50, 100, 150, 200, 250, 300, 350], "labelOverlap": false}},
                    "y": {"datum": 0.9375, "type": "quantitative", "title": "Probability of response", "axis": {"values": [0, 0.2, 0.4, 0.6, 0.8, 1.0], "labelOverlap": false, "labelExpr": "datum.value == 0 ? '0' : format(datum.value, '.1f')"}}
                  }
                },
                {
                  "data": {"values": [{}]},
                  "mark": {"type": "square", "size": 32, "filled": true, "color": "#3bb55a"},
                  "encoding": {
                    "x": {"datum": 256, "type": "quantitative", "title": "Luspatercept AUCavg (μg·day/mL)", "axis": {"values": [0, 50, 100, 150, 200, 250, 300, 350], "labelOverlap": false}},
                    "y": {"datum": 0.881, "type": "quantitative", "title": "Probability of response", "axis": {"values": [0, 0.2, 0.4, 0.6, 0.8, 1.0], "labelOverlap": false, "labelExpr": "datum.value == 0 ? '0' : format(datum.value, '.1f')"}}
                  }
                },
                {
                  "data": {"values": [{}]},
                  "mark": {"type": "square", "size": 32, "filled": true, "fill": "#ffffff", "stroke": "#e8403a", "strokeWidth": 1.2},
                  "encoding": {
                    "x": {"datum": 256, "type": "quantitative", "title": "Luspatercept AUCavg (μg·day/mL)", "axis": {"values": [0, 50, 100, 150, 200, 250, 300, 350], "labelOverlap": false}},
                    "y": {"datum": 0.824, "type": "quantitative", "title": "Probability of response", "axis": {"values": [0, 0.2, 0.4, 0.6, 0.8, 1.0], "labelOverlap": false, "labelExpr": "datum.value == 0 ? '0' : format(datum.value, '.1f')"}}
                  }
                },
                {
                  "data": {"values": [{}]},
                  "mark": {"type": "text", "text": "No dose escalation", "align": "left", "fontSize": 8.8, "color": "#222"},
                  "encoding": {
                    "x": {"datum": 274, "type": "quantitative", "title": "Luspatercept AUCavg (μg·day/mL)", "axis": {"values": [0, 50, 100, 150, 200, 250, 300, 350], "labelOverlap": false}},
                    "y": {"datum": 0.9375, "type": "quantitative", "title": "Probability of response", "axis": {"values": [0, 0.2, 0.4, 0.6, 0.8, 1.0], "labelOverlap": false, "labelExpr": "datum.value == 0 ? '0' : format(datum.value, '.1f')"}}
                  }
                },
                {
                  "data": {"values": [{}]},
                  "mark": {"type": "text", "text": "1 dose escalation", "align": "left", "fontSize": 8.8, "color": "#222"},
                  "encoding": {
                    "x": {"datum": 274, "type": "quantitative", "title": "Luspatercept AUCavg (μg·day/mL)", "axis": {"values": [0, 50, 100, 150, 200, 250, 300, 350], "labelOverlap": false}},
                    "y": {"datum": 0.881, "type": "quantitative", "title": "Probability of response", "axis": {"values": [0, 0.2, 0.4, 0.6, 0.8, 1.0], "labelOverlap": false, "labelExpr": "datum.value == 0 ? '0' : format(datum.value, '.1f')"}}
                  }
                },
                {
                  "data": {"values": [{}]},
                  "mark": {"type": "text", "text": "Placebo", "align": "left", "fontSize": 8.8, "color": "#222"},
                  "encoding": {
                    "x": {"datum": 274, "type": "quantitative", "title": "Luspatercept AUCavg (μg·day/mL)", "axis": {"values": [0, 50, 100, 150, 200, 250, 300, 350], "labelOverlap": false}},
                    "y": {"datum": 0.824, "type": "quantitative", "title": "Probability of response", "axis": {"values": [0, 0.2, 0.4, 0.6, 0.8, 1.0], "labelOverlap": false, "labelExpr": "datum.value == 0 ? '0' : format(datum.value, '.1f')"}}
                  }
                }
              ]
            }
          ]
        }
      ],
      "spacing": 22,
      "resolve": {"scale": {"x": "independent", "y": "independent", "color": "independent", "stroke": "independent", "fill": "independent"}}
    }
  ],
  "spacing": 9
}
